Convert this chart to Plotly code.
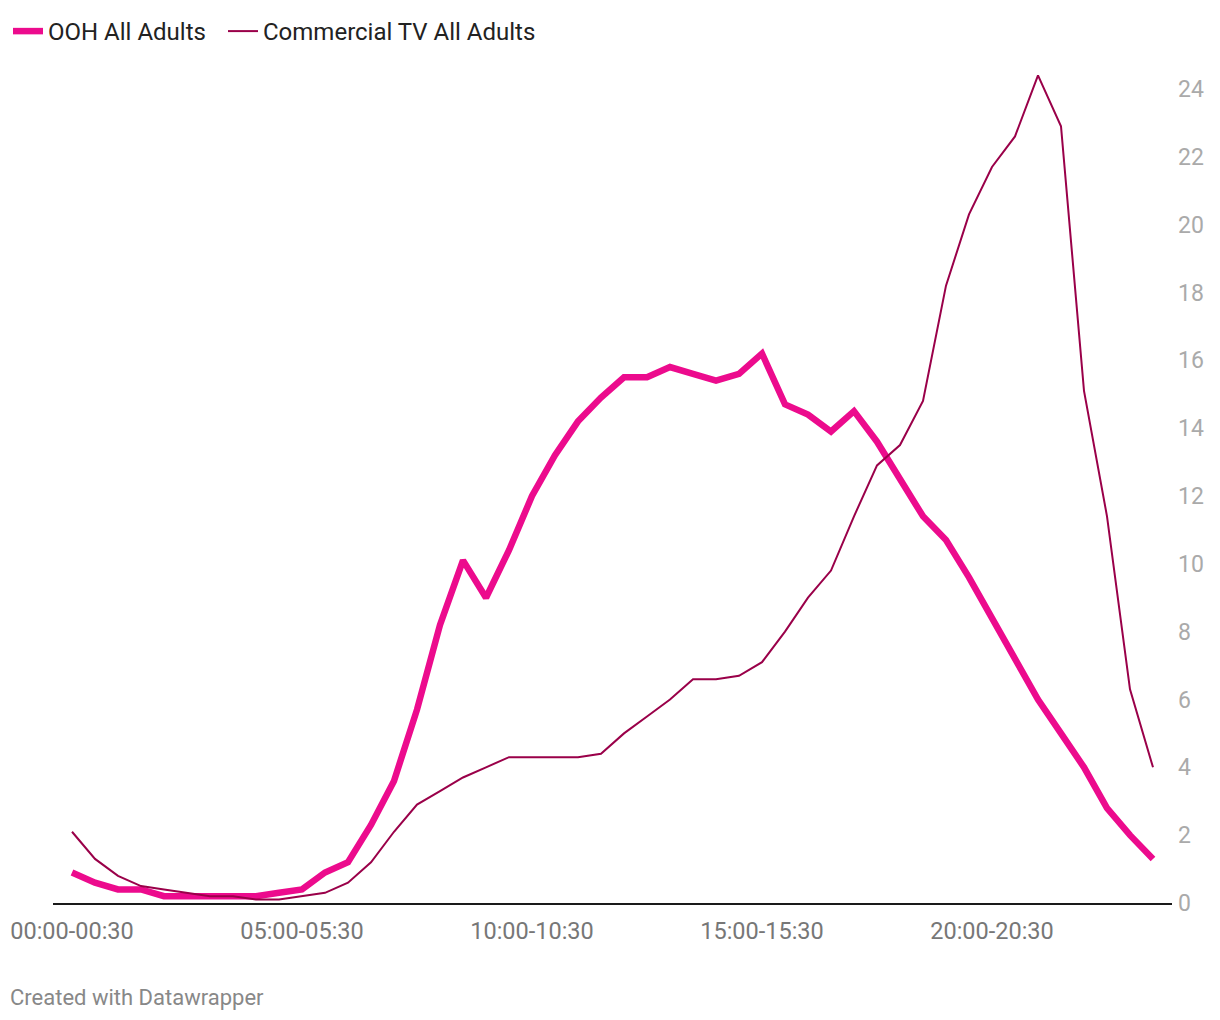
import plotly.graph_objects as go

# 48 half-hour slots
slots = [f"{h:02d}:{m:02d}-{(h + (m + 30) // 60):02d}:{(m + 30) % 60:02d}" for h in range(24) for m in (0, 30)]

ooh = [0.9, 0.6, 0.4, 0.4, 0.2, 0.2, 0.2, 0.2, 0.2, 0.3,
       0.4, 0.9, 1.2, 2.3, 3.6, 5.7, 8.2, 10.1, 9.0, 10.4,
       12.0, 13.2, 14.2, 14.9, 15.5, 15.5, 15.8, 15.6, 15.4, 15.6,
       16.2, 14.7, 14.4, 13.9, 14.5, 13.6, 12.5, 11.4, 10.7, 9.6,
       8.4, 7.2, 6.0, 5.0, 4.0, 2.8, 2.0, 1.3]

tv = [2.1, 1.3, 0.8, 0.5, 0.4, 0.3, 0.2, 0.2, 0.1, 0.1,
      0.2, 0.3, 0.6, 1.2, 2.1, 2.9, 3.3, 3.7, 4.0, 4.3,
      4.3, 4.3, 4.3, 4.4, 5.0, 5.5, 6.0, 6.6, 6.6, 6.7,
      7.1, 8.0, 9.0, 9.8, 11.4, 12.9, 13.5, 14.8, 18.2, 20.3,
      21.7, 22.6, 24.4, 22.9, 15.1, 11.4, 6.3, 4.0]

x_tick_idx = [0, 10, 20, 30, 40]
y_ticks = list(range(0, 25, 2))

idx = list(range(len(slots)))

fig = go.Figure()
fig.add_trace(go.Scatter(
    x=idx, y=ooh, mode="lines", name="OOH All Adults",
    line=dict(color="#ec0b8d", width=6.5), legend="legend",
))
fig.add_trace(go.Scatter(
    x=idx, y=tv, mode="lines", name="Commercial TV All Adults",
    line=dict(color="#9a0049", width=2), legend="legend2",
))

W, H = 1220, 1020
ml, mr, mt, mb = 53, 48, 55, 117
pw = W - ml - mr
ph = H - mt - mb

legend_common = dict(
    orientation="h", xref="container", yref="container",
    xanchor="left", yanchor="top", y=1 - 9 / H,
    font=dict(family="Roboto", size=24, color="#222222"),
    bgcolor="rgba(0,0,0,0)", borderwidth=0,
    itemwidth=30, tracegroupgap=0,
)

fig.update_layout(
    width=W, height=H,
    margin=dict(l=ml, r=mr, t=mt, b=mb, pad=0, autoexpand=False),
    paper_bgcolor="white", plot_bgcolor="white",
    font=dict(family="Roboto", size=23, color="#222222"),
    showlegend=True,
    legend=dict(x=8 / W, **legend_common),
    legend2=dict(x=223 / W, **legend_common),
    xaxis=dict(
        range=[-19 / 23, 47 + 19 / 23],
        automargin=False,
        tickmode="array",
        tickvals=x_tick_idx,
        ticktext=[slots[i] for i in x_tick_idx],
        showgrid=False, zeroline=False,
        showline=True, linecolor="#1a1a1a", linewidth=2,
        ticks="", ticklabelstandoff=6,
        tickfont=dict(family="Roboto", size=23.5, color="#777777"),
    ),
    yaxis=dict(
        range=[0, 25],
        automargin=False,
        side="right",
        tickmode="array", tickvals=y_ticks,
        showgrid=False, zeroline=False, showline=False,
        ticks="", ticklabelstandoff=5,
        tickfont=dict(family="Roboto", size=23, color="#aaaaaa"),
    ),
    annotations=[dict(
        text="Created with Datawrapper",
        xref="paper", yref="paper",
        x=(8 - ml) / pw, y=-(997 - (H - mb)) / ph,
        xanchor="left", yanchor="middle", showarrow=False,
        font=dict(family="Roboto", size=22, color="#888888"),
    )],
)

fig.write_html("out.html")
